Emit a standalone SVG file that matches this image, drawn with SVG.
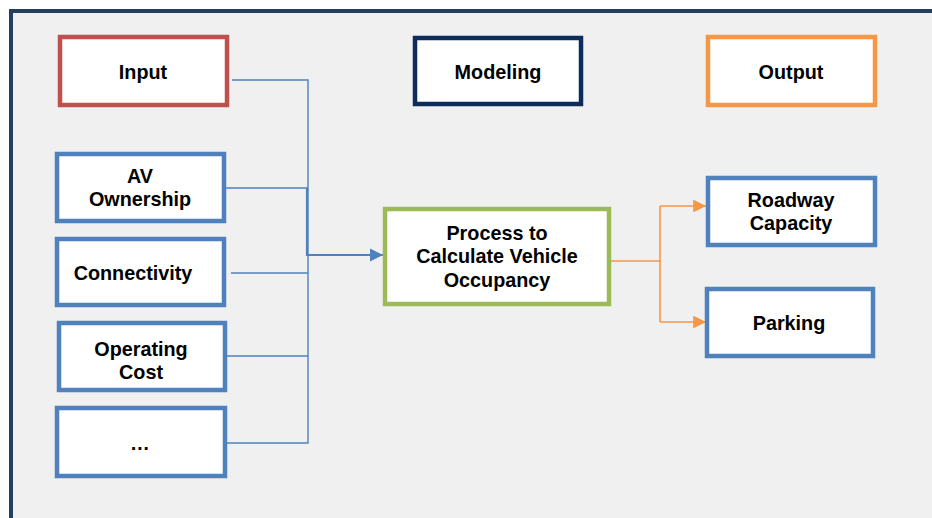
<svg xmlns="http://www.w3.org/2000/svg" width="932" height="518" viewBox="0 0 932 518">
<defs>
<style>
.box{fill:#fff;stroke-width:4.5}
.red{stroke:#c0504d}
.navy{stroke:#0e2b5c}
.orange{stroke:#f79646}
.blue{stroke:#4f81bd}
.green{stroke:#9bbb59}
text{font-family:"Liberation Sans",Arial,sans-serif;font-weight:bold;font-size:19.8px;fill:#000;text-anchor:middle}
.thin{fill:none;stroke:#4f81bd;stroke-width:1.4}
.or{fill:none;stroke:#f79646;stroke-width:1.6}
</style>
<marker id="ab" viewBox="0 0 10 10" refX="10" refY="5" markerWidth="6" markerHeight="6" orient="auto" markerUnits="strokeWidth"><path d="M0,0L10,5L0,10z" fill="#4f81bd"/></marker>
<marker id="ao" viewBox="0 0 10 10" refX="10" refY="5" markerWidth="8" markerHeight="8" orient="auto" markerUnits="strokeWidth"><path d="M0,0L10,5L0,10z" fill="#f79646"/></marker>
</defs>
<rect x="0" y="0" width="932" height="518" fill="#ffffff"/>
<rect x="11" y="11" width="930" height="520" fill="#f0f0f0" stroke="#243f60" stroke-width="4"/>
<g id="connectors">
<path class="thin" d="M232,80H308V443H227"/>
<path class="thin" d="M226,188H308"/>
<path class="thin" d="M231,273H308"/>
<path class="thin" d="M227,356H308"/>
<path d="M307,188V255H383" fill="none" stroke="#4f81bd" stroke-width="2.2" marker-end="url(#ab)"/>
<path class="or" d="M611,261H660"/>
<path class="or" d="M660,206V322"/>
<path class="or" d="M660,206H706" marker-end="url(#ao)"/>
<path class="or" d="M660,322H706" marker-end="url(#ao)"/>
</g>
<g id="input"><rect class="box red" x="60" y="37" width="167" height="68"/><text x="143" y="79">Input</text></g>
<g id="modeling"><rect class="box navy" x="415" y="38" width="166" height="66"/><text x="498" y="79">Modeling</text></g>
<g id="output"><rect class="box orange" x="708" y="37" width="167" height="68"/><text x="791" y="79">Output</text></g>
<g id="av"><rect class="box blue" x="57" y="154" width="167" height="67"/><text x="140" y="183">AV</text><text x="140" y="206">Ownership</text></g>
<g id="connectivity"><rect class="box blue" x="57" y="239" width="167" height="66"/><text x="133" y="280">Connectivity</text></g>
<g id="operating"><rect class="box blue" x="59" y="323" width="166" height="67"/><text x="141" y="356">Operating</text><text x="141" y="379">Cost</text></g>
<g id="etc"><rect class="box blue" x="57" y="408" width="168" height="68"/><text x="140" y="450">…</text></g>
<g id="process"><rect class="box green" x="385" y="209" width="224" height="95"/><text x="497" y="240">Process to</text><text x="497" y="263">Calculate Vehicle</text><text x="497" y="287">Occupancy</text></g>
<g id="roadway"><rect class="box blue" x="708" y="178" width="167" height="67"/><text x="791" y="207">Roadway</text><text x="791" y="230">Capacity</text></g>
<g id="parking"><rect class="box blue" x="707" y="289" width="166" height="67"/><text x="789" y="330">Parking</text></g>
</svg>
